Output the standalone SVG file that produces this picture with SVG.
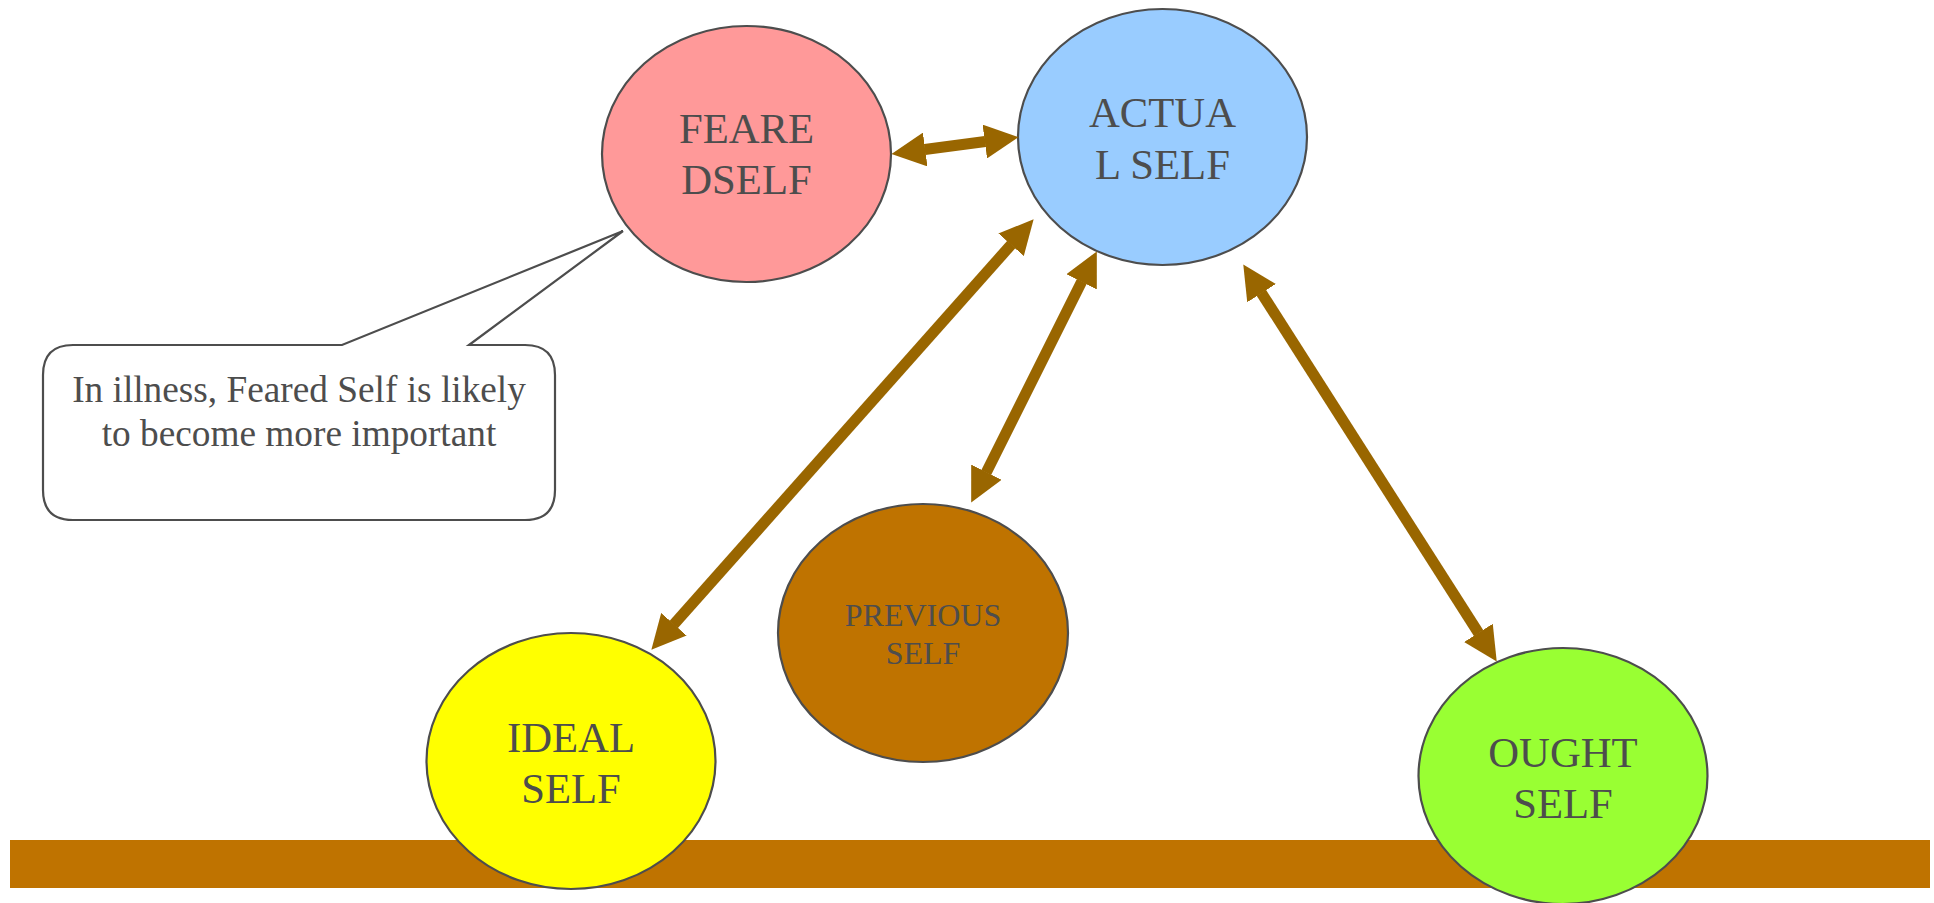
<svg xmlns="http://www.w3.org/2000/svg" width="1934" height="903" viewBox="0 0 1934 903">
<style>
.node{stroke:#4D4D4D;stroke-width:2.2}
.lbl{font-family:"Liberation Serif","Times New Roman",serif;fill:#4D4D4D;text-anchor:middle}
.big{font-size:42.7px}
.mid{font-size:32px}
.note{font-size:37.3px}
.conn{stroke:#996600;stroke-width:11;fill:none;marker-start:url(#ah);marker-end:url(#ah)}
</style>
<defs>
<marker id="ah" markerUnits="userSpaceOnUse" markerWidth="34" markerHeight="34" viewBox="0 0 34 34" refX="0.5" refY="17" orient="auto-start-reverse"><path d="M0,0 L34,17 L0,34 z" fill="#996600"/></marker>
</defs>
<rect x="0" y="0" width="1934" height="903" fill="#FFFFFF"/>
<rect id="ground" x="10" y="840" width="1920" height="48" fill="#BF7300"/>
<g id="callout">
<path d="M73,345 L342,345 L623,231 L469,345 L525,345 Q555,345 555,375 L555,490 Q555,520 525,520 L73,520 Q43,520 43,490 L43,375 Q43,345 73,345 Z" fill="#FFFFFF" stroke="#4D4D4D" stroke-width="2.2" stroke-linejoin="miter"/>
<text class="lbl note" x="299" y="402">In illness, Feared Self is likely</text>
<text class="lbl note" x="299" y="446">to become more important</text>
</g>
<g id="feared">
<ellipse class="node" cx="746.5" cy="154" rx="144.5" ry="128" fill="#FF9999"/>
<text class="lbl big" x="746.5" y="143">FEARE</text>
<text class="lbl big" x="746.5" y="194">DSELF</text>
</g>
<g id="actual">
<ellipse class="node" cx="1162.5" cy="137" rx="144.5" ry="128" fill="#99CCFF"/>
<text class="lbl big" x="1162.5" y="127">ACTUA</text>
<text class="lbl big" x="1162.5" y="179">L SELF</text>
</g>
<g id="previous">
<ellipse class="node" cx="923" cy="633" rx="145" ry="129" fill="#BF7300"/>
<text class="lbl mid" x="923" y="625.5">PREVIOUS</text>
<text class="lbl mid" x="923" y="664">SELF</text>
</g>
<g id="ideal">
<ellipse class="node" cx="571" cy="761" rx="144.5" ry="128" fill="#FFFF00"/>
<text class="lbl big" x="571" y="752">IDEAL</text>
<text class="lbl big" x="571" y="803">SELF</text>
</g>
<g id="ought">
<ellipse class="node" cx="1563" cy="776" rx="144.5" ry="128" fill="#99FF33"/>
<text class="lbl big" x="1563" y="767">OUGHT</text>
<text class="lbl big" x="1563" y="818">SELF</text>
</g>
<g id="connectors">
<line class="conn" x1="924.7" y1="149.5" x2="985.3" y2="141.5"/>
<line class="conn" x1="673.6" y1="624.6" x2="1011.4" y2="244.4"/>
<line class="conn" x1="986.2" y1="472.6" x2="1081.8" y2="281.4"/>
<line class="conn" x1="1261.3" y1="292.7" x2="1478.7" y2="633.3"/>
</g>
</svg>
